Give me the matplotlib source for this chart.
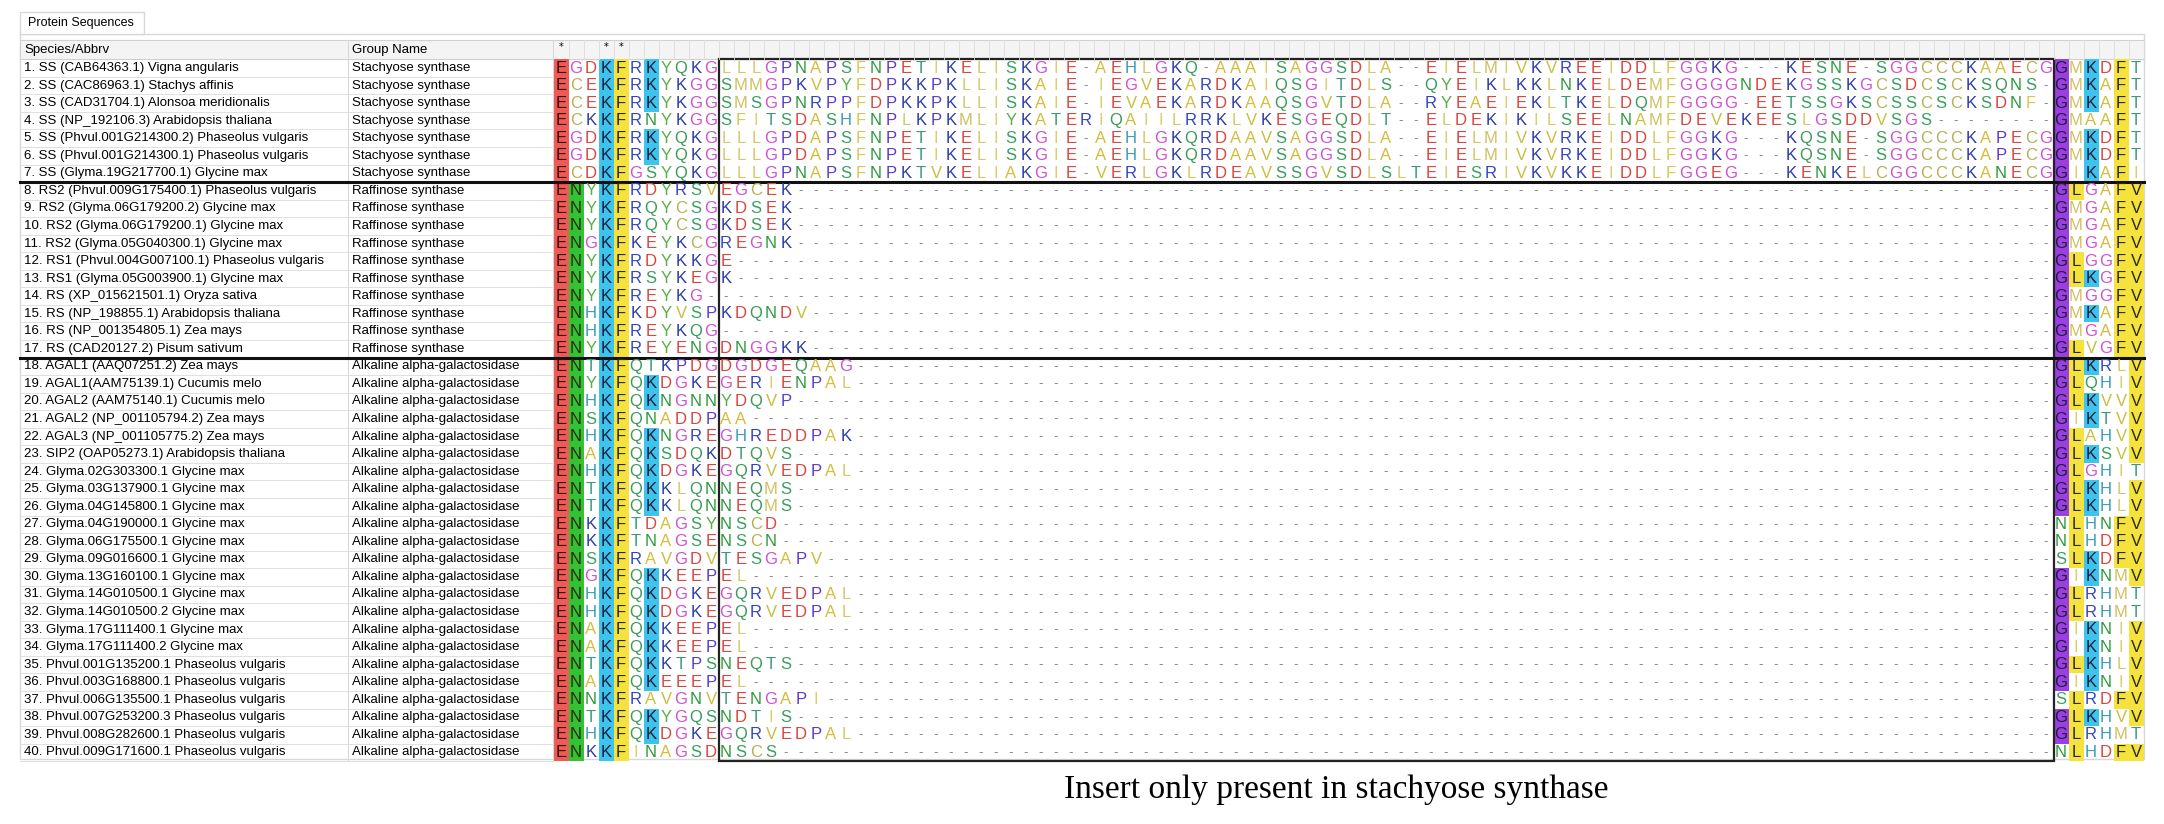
import matplotlib
matplotlib.use('Agg')
import matplotlib.pyplot as plt
from matplotlib.patches import Rectangle

names = [
    '1. SS (CAB64363.1) Vigna angularis', '2. SS (CAC86963.1) Stachys affinis',
    '3. SS (CAD31704.1) Alonsoa meridionalis', '4. SS (NP_192106.3) Arabidopsis thaliana',
    '5. SS (Phvul.001G214300.2) Phaseolus vulgaris', '6. SS (Phvul.001G214300.1) Phaseolus vulgaris',
    '7. SS (Glyma.19G217700.1) Glycine max', '8. RS2 (Phvul.009G175400.1) Phaseolus vulgaris',
    '9. RS2 (Glyma.06G179200.2) Glycine max', '10. RS2 (Glyma.06G179200.1) Glycine max',
    '11. RS2 (Glyma.05G040300.1) Glycine max', '12. RS1 (Phvul.004G007100.1) Phaseolus vulgaris',
    '13. RS1 (Glyma.05G003900.1) Glycine max', '14. RS (XP_015621501.1) Oryza sativa',
    '15. RS (NP_198855.1) Arabidopsis thaliana', '16. RS (NP_001354805.1) Zea mays',
    '17. RS (CAD20127.2) Pisum sativum', '18. AGAL1 (AAQ07251.2) Zea mays',
    '19. AGAL1(AAM75139.1) Cucumis melo', '20. AGAL2 (AAM75140.1) Cucumis melo',
    '21. AGAL2 (NP_001105794.2) Zea mays', '22. AGAL3 (NP_001105775.2) Zea mays',
    '23. SIP2 (OAP05273.1) Arabidopsis thaliana', '24. Glyma.02G303300.1 Glycine max',
    '25. Glyma.03G137900.1 Glycine max', '26. Glyma.04G145800.1 Glycine max',
    '27. Glyma.04G190000.1 Glycine max', '28. Glyma.06G175500.1 Glycine max',
    '29. Glyma.09G016600.1 Glycine max', '30. Glyma.13G160100.1 Glycine max',
    '31. Glyma.14G010500.1 Glycine max', '32. Glyma.14G010500.2 Glycine max',
    '33. Glyma.17G111400.1 Glycine max', '34. Glyma.17G111400.2 Glycine max',
    '35. Phvul.001G135200.1 Phaseolus vulgaris', '36. Phvul.003G168800.1 Phaseolus vulgaris',
    '37. Phvul.006G135500.1 Phaseolus vulgaris', '38. Phvul.007G253200.3 Phaseolus vulgaris',
    '39. Phvul.008G282600.1 Phaseolus vulgaris', '40. Phvul.009G171600.1 Phaseolus vulgaris',
]
groups = ['Stachyose synthase'] * 7 + ['Raffinose synthase'] * 10 + ['Alkaline alpha-galactosidase'] * 23

pre = ['EGDKFRKYQKG', 'ECEKFRKYKGG', 'ECEKFRKYKGG', 'ECKKFRNYKGG', 'EGDKFRKYQKG', 'EGDKFRKYQKG',
       'ECDKFGSYQKG', 'ENYKFRDYRSV', 'ENYKFRQYCSG', 'ENYKFRQYCSG', 'ENGKFKEYKCG', 'ENYKFRDYKKG',
       'ENYKFRSYKEG', 'ENYKFREYKG-', 'ENHKFKDYVSP', 'ENHKFREYKQG', 'ENYKFREYENG', 'ENTKFQTKPDG',
       'ENYKFQKDGKE', 'ENHKFQKNGNN', 'ENSKFQNADDP', 'ENHKFQKNGRE', 'ENAKFQKSDQK', 'ENHKFQKDGKE',
       'ENTKFQKKLQN', 'ENTKFQKKLQN', 'ENKKFTDAGSY', 'ENKKFTNAGSE', 'ENSKFRAVGDV', 'ENGKFQKKEEP',
       'ENHKFQKDGKE', 'ENHKFQKDGKE', 'ENAKFQKKEEP', 'ENAKFQKKEEP', 'ENTKFQKKTPS', 'ENAKFQKEEEP',
       'ENNKFRAVGNV', 'ENTKFQKYGQS', 'ENHKFQKDGKE', 'ENKKFINAGSD']

mid = [
    'LLLGPNAPSFNPETIKELISKGIE-AEHLGKQ-AAAISAGGSDLA--EIELMIVKVREEIDDLFGGKG---KESNE-SGGCCCKAAECG',
    'SMMGPKVPYFDPKKPKLLISKAIE-IEGVEKARDKAIQSGITDLS--QYEIKLKKLNKELDEMFGGGGNDEKGSSKGCSDCSCKSQNS-',
    'SMSGPNRPPFDPKKPKLLISKAIE-IEVAEKARDKAAQSGVTDLA--RYEAEIEKLTKELDQMFGGGG-EETSSGKSCSSCSCKSDNF-',
    'SFITSDASHFNPLKPKMLIYKATERIQAIILRRKLVKESGEQDLT--ELDEKIKILSEELNAMFDEVEKEESLGSDDVSGS',
    'LLLGPDAPSFNPETIKELISKGIE-AEHLGKQRDAAVSAGGSDLA--EIELMIVKVRKEIDDLFGGKG---KQSNE-SGGCCCKAPECG',
    'LLLGPDAPSFNPETIKELISKGIE-AEHLGKQRDAAVSAGGSDLA--EIELMIVKVRKEIDDLFGGKG---KQSNE-SGGCCCKAPECG',
    'LLLGPNAPSFNPKTVKELIAKGIE-VERLGKLRDEAVSSGVSDLSLTEIESRIVKVKKEIDDLFGGEG---KENKELCGGCCCKANECG',
    'EGCEK', 'KDSEK', 'KDSEK', 'REGNK', 'E', 'K', '', 'KDQNDV', '', 'DNGGKK',
    'DGDGEQAAG', 'GERIENPAL', 'YDQVP', 'AA', 'GHREDDPAK', 'DTQVS', 'GQRVEDPAL', 'NEQMS', 'NEQMS',
    'NSCD', 'NSCN', 'TESGAPV', 'EL', 'GQRVEDPAL', 'GQRVEDPAL', 'EL', 'EL', 'NEQTS', 'EL',
    'TENGAPI', 'NDTIS', 'GQRVEDPAL', 'NSCS',
]

post = ['GMKDFT', 'GMKAFT', 'GMKAFT', 'GMAAFT', 'GMKDFT', 'GMKDFT', 'GIKAFI',
        'GLGAFV', 'GMGAFV', 'GMGAFV', 'GMGAFV', 'GLGGFV', 'GLKGFV', 'GMGGFV', 'GMKAFV', 'GMGAFV',
        'GLVGFV', 'GLKRLV', 'GLQHIV', 'GLKVVV', 'GIKTVV', 'GLAHVV', 'GLKSVV', 'GLGHIT', 'GLKHLV',
        'GLKHLV', 'NLHNFV', 'NLHDFV', 'SLKDFV', 'GIKNMV', 'GLRHMT', 'GLRHMT', 'GIKNIV', 'GIKNIV',
        'GLKHLV', 'GIKNIV', 'SLRDFV', 'GLKHVV', 'GLRHMT', 'NLHDFV']

MID_LEN = 89
caption = 'Insert only present in stachyose synthase'

# letter colours (roughly the MEGA/Clustal style used in the screenshot)
fg = {
    'E': '#d9453f', 'D': '#d9453f', 'K': '#2a3aa8', 'R': '#3346c0', 'H': '#3a9cb4',
    'G': '#d050d0', 'P': '#5a3cc8', 'N': '#2a9a3a', 'Q': '#3a9a5a', 'S': '#3a9f5f',
    'T': '#3a9a78', 'C': '#b8b055', 'Y': '#5aae48', 'A': '#d4bc3c', 'V': '#c8be40',
    'L': '#d6c86a', 'I': '#d8d070', 'M': '#d0c060', 'F': '#d8c850', 'W': '#888888',
}
bg_pre = {0: ('E', '#ee5a55'), 1: ('N', '#33c233'), 3: ('K', '#3cc4ec'),
          4: ('F', '#f6e23c'), 6: ('K', '#3cc4ec')}
bg_post = {0: ('G', '#9b3fe0'), 1: ('L', '#f6e23c'), 2: ('K', '#3cc4ec'),
           4: ('F', '#f6e23c'), 5: ('V', '#f6e23c')}

x0, cw = 561, 15.0       # first column centre, column width (px)
y0, rh = 68, 17.55       # first row centre, row height (px)

fig = plt.figure(figsize=(21.64, 8.24), dpi=100)
ax = fig.add_axes([0, 0, 1, 1])
ax.set_xlim(0, 2164)
ax.set_ylim(824, 0)
ax.axis('off')

n = len(names)
ncol = len(pre[0]) + MID_LEN + len(post[0])
right = x0 + (ncol - 0.5) * cw
top = y0 - rh / 2

# tab + header
ax.add_patch(Rectangle((20, 12), 124, 22, fc='#ffffff', ec='#d8d8d8', lw=1))
ax.add_patch(Rectangle((20, 34), right - 20, 725, fc='#ffffff', ec='#d8d8d8', lw=1, zorder=0))
ax.text(28, 23, 'Protein Sequences', fontsize=9, va='center', family='Liberation Sans')
ax.add_patch(Rectangle((20, 40), right - 20, top - 40, fc='#f4f4f4', ec='#d0d0d0', lw=0.8))
ax.text(24, 49.5, 'Species/Abbrv', fontsize=9.5, va='center', family='Liberation Sans')
ax.text(352, 49.5, 'Group Name', fontsize=9.5, va='center', family='Liberation Sans')
ax.plot([348, 348], [40, top + n * rh], color='#d8d8d8', lw=0.8)
ax.plot([553, 553], [40, top + n * rh], color='#d8d8d8', lw=0.8)
for c in range(ncol):
    ax.plot([x0 + (c + 0.5) * cw] * 2, [40, top], color='#dddddd', lw=0.6)
for c in (0, 3, 4):
    ax.text(x0 + c * cw, 47, '*', fontsize=7, ha='center', va='center')

for i in range(n):
    yc = y0 + i * rh
    ax.plot([20, 553], [yc + rh / 2] * 2, color='#e0e0e0', lw=0.7)
    ax.text(24, yc, names[i], fontsize=9.5, va='center', family='Liberation Sans')
    ax.text(352, yc, groups[i], fontsize=9.5, va='center', family='Liberation Sans')
    row = pre[i] + mid[i].ljust(MID_LEN, '-')[:MID_LEN] + post[i]
    for c, ch in enumerate(row):
        xc = x0 + c * cw
        rule = None
        if c < len(pre[0]):
            rule = bg_pre.get(c)
        elif c >= len(pre[0]) + MID_LEN:
            rule = bg_post.get(c - len(pre[0]) - MID_LEN)
        if ch == '-':
            ax.text(xc, yc, '-', fontsize=9, ha='center', va='center', color='#8a8a8a')
            continue
        if rule and rule[0] == ch:
            ax.add_patch(Rectangle((xc - cw / 2, yc - rh / 2), cw, rh, fc=rule[1], ec='none'))
            col = '#3a0a0a' if ch == 'E' else '#1c1c3c' if ch in 'KG' else '#2a2a10'
        else:
            col = fg.get(ch, '#444444')
        ax.text(xc, yc, ch, fontsize=12, ha='center', va='center', color=col,
                family='Liberation Sans')

# group separators
for k in (7, 17):
    ax.plot([20, right], [top + k * rh] * 2, color='#111111', lw=2.2)

# box around the insert
bx = x0 + (len(pre[0]) - 0.5) * cw
ax.add_patch(Rectangle((bx, top), MID_LEN * cw, n * rh, fc='none', ec='#222222', lw=1.6))

ax.text(1064, 790, caption, fontsize=24, va='center', family='Liberation Serif')

fig.savefig('out.png', dpi=100)
